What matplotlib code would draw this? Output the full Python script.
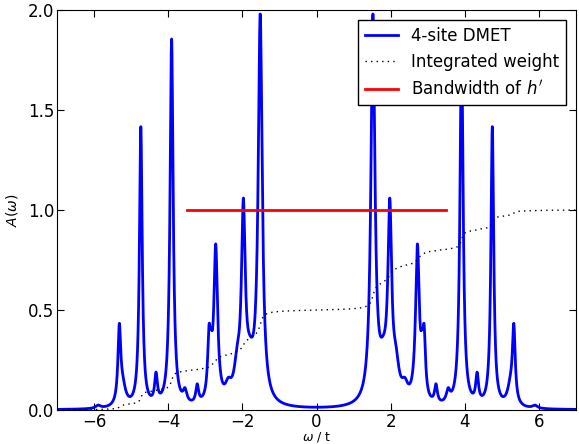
import numpy as np
import matplotlib
matplotlib.use("Agg")
import matplotlib.pyplot as plt

# peaks on the negative side (mirrored to positive side)
peak_pos = [-5.89, -5.32, -5.23, -4.74, -4.33, -3.91, -3.55, -3.22, -2.90, -2.84,
            -2.72, -2.38, -2.14, -1.975, -1.80, -1.52]
peak_height = [0.015, 0.37, 0.09, 1.40, 0.14, 1.84, 0.06, 0.09, 0.29, 0.12,
               0.77, 0.07, 0.15, 0.90, 0.16, 1.92]
peak_width = [0.08, 0.045, 0.10, 0.045, 0.045, 0.05, 0.06, 0.045, 0.045, 0.04,
              0.06, 0.10, 0.10, 0.06, 0.15, 0.065]

band_lo, band_hi, band_y = -3.5, 3.5, 1.0

w = np.linspace(-7, 7, 4001)
A = np.zeros_like(w)
for sgn in (-1, 1):
    for p, h, g in zip(peak_pos, peak_height, peak_width):
        A += h * g**2 / ((w - sgn * p)**2 + g**2)

cum = np.concatenate([[0], np.cumsum(0.5 * (A[1:] + A[:-1]) * np.diff(w))])
cum = cum / cum[-1]

fig = plt.figure(figsize=(5.79, 4.44), dpi=100)
ax = fig.add_axes([0.0985, 0.0766, 0.8965, 0.9005])
ax.plot(w, A, color="blue", lw=2, label="4-site DMET")
ax.plot(w, cum, color="black", lw=1, ls=(0, (1, 3)), label="Integrated weight")
ax.plot([band_lo, band_hi], [band_y, band_y], color="red", lw=2,
        label=r"Bandwidth of $h'$")
ax.set_xlim(-7, 7)
ax.set_ylim(0, 2)
ax.set_xticks([-6, -4, -2, 0, 2, 4, 6])
ax.set_yticks([0, 0.5, 1.0, 1.5, 2.0])
ax.set_yticklabels(["0.0", "0.5", "1.0", "1.5", "2.0"])
ax.tick_params(direction="in", top=True, right=True, labelsize=12, length=5, pad=2)
ax.set_xlabel(r"$\omega$ / t", fontsize=9)
ax.xaxis.set_label_coords(0.5, -0.049)
ax.set_ylabel(r"$A(\omega)$", fontsize=10, labelpad=6)
ax.legend(loc="upper right", fontsize=12, fancybox=False, framealpha=1,
          edgecolor="black", handlelength=2, borderaxespad=0.6)

fig.savefig("out.png", dpi=100)
